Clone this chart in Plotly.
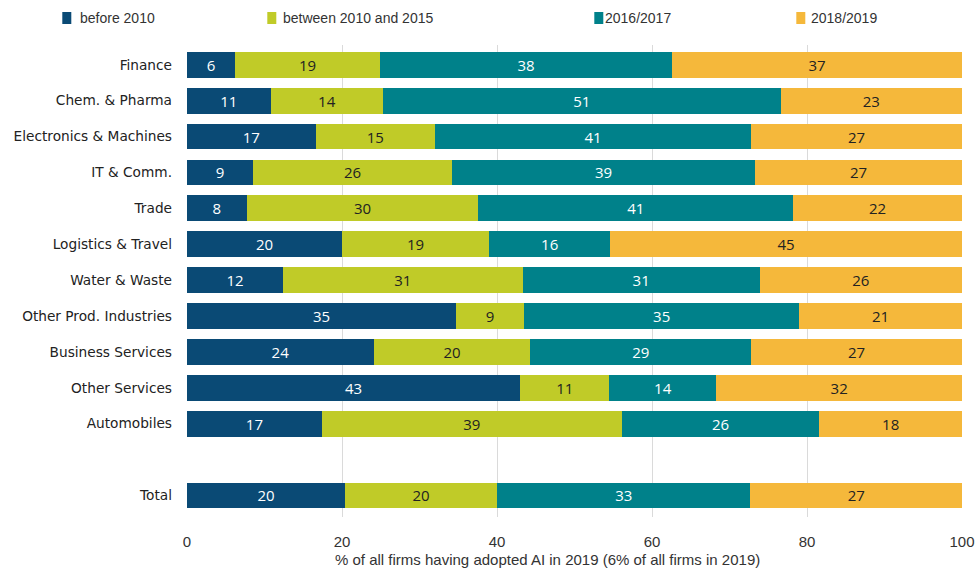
import plotly.graph_objects as go

categories = ["Finance", "Chem. & Pharma", "Electronics & Machines", "IT & Comm.", "Trade",
              "Logistics & Travel", "Water & Waste", "Other Prod. Industries", "Business Services",
              "Other Services", "Automobiles", "Total"]
row_pos = [0, 1, 2, 3, 4, 5, 6, 7, 8, 9, 10, 12]

series_names = ["before 2010", "between 2010 and 2015", "2016/2017", "2018/2019"]

before_2010 = [6.2, 10.8, 16.6, 8.5, 7.7, 20.0, 12.4, 34.7, 24.1, 43.0, 17.4, 20.4]
between_2010_2015 = [18.7, 14.5, 15.4, 25.7, 29.9, 19.0, 30.9, 8.8, 20.2, 11.5, 38.7, 19.6]
y2016_2017 = [37.7, 51.3, 40.8, 39.1, 40.6, 15.6, 30.6, 35.5, 28.5, 13.8, 25.5, 32.7]
y2018_2019 = [37.4, 23.4, 27.2, 26.7, 21.8, 45.4, 26.1, 21.0, 27.2, 31.7, 18.4, 27.3]

labels_before_2010 = ["6", "11", "17", "9", "8", "20", "12", "35", "24", "43", "17", "20"]
labels_between = ["19", "14", "15", "26", "30", "19", "31", "9", "20", "11", "39", "20"]
labels_2016 = ["38", "51", "41", "39", "41", "16", "31", "35", "29", "14", "26", "33"]
labels_2018 = ["37", "23", "27", "27", "22", "45", "26", "21", "27", "32", "18", "27"]

x_ticks = [0, 20, 40, 60, 80, 100]
x_title = "% of all firms having adopted AI in 2019 (6% of all firms in 2019)"

colors = ["#0a4a75", "#c0cb28", "#00818a", "#f5b83b"]
text_colors = ["white", "#222222", "white", "#222222"]

all_values = [before_2010, between_2010_2015, y2016_2017, y2018_2019]
all_labels = [labels_before_2010, labels_between, labels_2016, labels_2018]

fig = go.Figure()
for name, vals, labs, col, tcol in zip(series_names, all_values, all_labels, colors, text_colors):
    fig.add_trace(go.Bar(
        y=row_pos, x=vals, orientation="h", name=name,
        marker=dict(color=col, line=dict(width=0)),
        text=labs, textposition="inside", insidetextanchor="middle", textangle=0,
        constraintext="none",
        insidetextfont=dict(color=tcol, size=15, family="Open Sans"),
        width=0.72, showlegend=False, hoverinfo="skip",
    ))

L, R, T, B = 186.7, 13.3, 45, 54
W, H = 975, 571
pw = W - L - R
ph = H - T - B

def px_x(p):
    return (p - L) / pw

def px_y(p):
    return (H - B - p) / ph

shapes = []
annotations = []
legend_marker_x = [62, 267, 594, 796]
legend_text_x = [78, 281, 603, 809]
for name, col, mx, tx in zip(series_names, colors, legend_marker_x, legend_text_x):
    shapes.append(dict(type="rect", xref="paper", yref="paper",
                       x0=px_x(mx), x1=px_x(mx + 9), y0=px_y(24), y1=px_y(12),
                       fillcolor=col, line=dict(width=0)))
    annotations.append(dict(xref="paper", yref="paper", x=px_x(tx), y=px_y(18),
                            xanchor="left", yanchor="middle", showarrow=False,
                            text=name, font=dict(size=14, color="#333333",
                                                 family="Liberation Sans")))

annotations.append(dict(xref="paper", yref="paper", x=px_x(547), y=px_y(559),
                        xanchor="center", yanchor="middle", showarrow=False,
                        text=x_title, font=dict(size=15, color="#333333",
                                                family="Liberation Sans")))

fig.update_layout(
    barmode="stack",
    width=W, height=H,
    margin=dict(l=L, r=R, t=T, b=B, pad=0, autoexpand=False),
    plot_bgcolor="white", paper_bgcolor="white",
    shapes=shapes, annotations=annotations,
    xaxis=dict(range=[0, 100], tickvals=x_ticks, showgrid=True, gridcolor="#dadada", gridwidth=1,
               zeroline=False, showline=False, ticks="outside", ticklen=11, tickcolor="rgba(0,0,0,0)",
               automargin=False,
               tickfont=dict(size=15, color="#333333", family="Liberation Sans")),
    yaxis=dict(range=[12.6, -0.55], tickvals=row_pos, ticktext=categories, showgrid=False,
               zeroline=False, showline=False, ticks="", ticklabelstandoff=14, automargin=False,
               tickfont=dict(size=13.7, color="#222222", family="DejaVu Sans")),
)

fig.write_html("out.html")
